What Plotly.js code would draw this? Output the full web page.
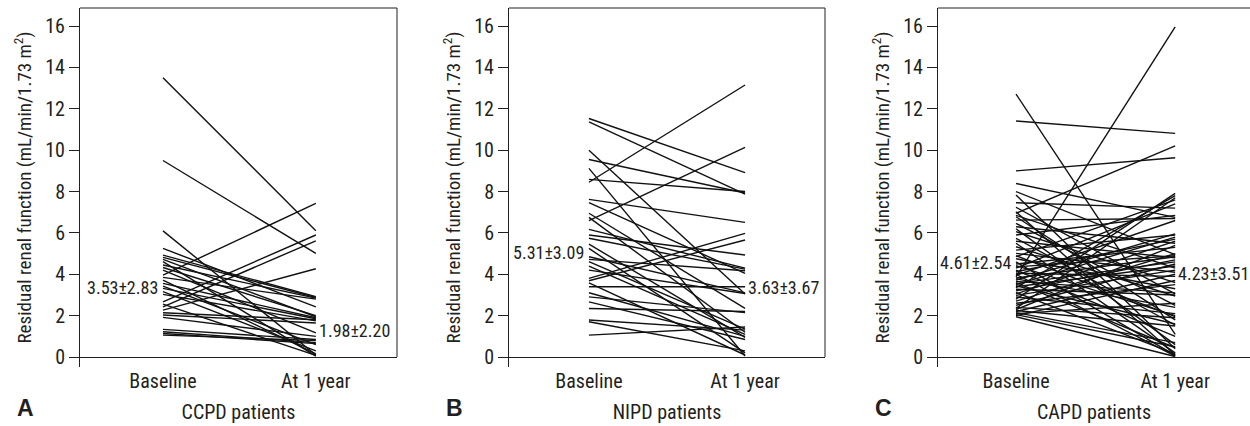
<!DOCTYPE html>
<html>
<head>
<meta charset="utf-8">
<script src="https://cdn.plot.ly/plotly-3.0.1.min.js"></script>
<style>
  html, body { margin: 0; padding: 0; background: #fff; }
  #chart { width: 1250px; height: 426px; }
</style>
</head>
<body>
<div id="chart"></div>
<script>
// ---------- data ----------
const xLabels = ['Baseline', 'At 1 year'];
const yTicks = [0, 2, 4, 6, 8, 10, 12, 14, 16];

const ccpdBaseline = [13.5, 9.5, 6.1, 5.25, 4.93, 4.82, 4.72, 4.61, 4.45, 4.33, 4.2, 3.96, 3.85, 3.72, 3.56,
  3.43, 3.32, 3.16, 3.03, 2.67, 2.56, 2.43, 2.27, 2.14, 2.03, 1.92, 1.34, 1.22, 1.14, 1.06];
const ccpdYear1 = [6.11, 5.01, 0.1, 2.43, 2.92, 2.88, 1.95, 0.05, 2.85, 2.0, 1.17, 7.43, 2.8, 0.15, 1.9,
  0.6, 1.85, 0.3, 1.75, 5.9, 0.08, 5.62, 4.27, 1.8, 1.65, 1.0, 0.85, 0.7, 0.65, 0.8];

const nipdBaseline = [8.45, 6.59, 11.53, 8.59, 9.55, 11.37, 7.62, 3.8, 3.69, 5.9, 6.17, 5.74, 4.72, 7.46, 3.4,
  4.85, 4.2, 10.0, 6.95, 2.35, 2.91, 1.06, 4.61, 1.79, 6.75, 4.4, 3.11, 5.46, 2.67, 1.71, 5.25, 3.59, 9.12];
const nipdYear1 = [13.15, 10.13, 8.91, 8.0, 7.93, 7.88, 6.51, 5.98, 5.66, 4.93, 4.3, 4.25, 4.17, 4.05, 3.4,
  3.1, 3.07, 3.05, 2.35, 2.2, 2.15, 1.45, 1.35, 1.3, 1.2, 1.1, 1.0, 0.95, 0.85, 0.3, 0.2, 0.1, 0.05];

const capdBaseline = [12.71, 11.41, 9.0, 8.39, 8.0, 7.83, 7.46, 7.24, 7.02, 6.95, 6.85, 6.78, 6.62, 6.46, 6.3,
  6.2, 6.06, 5.9, 5.74, 5.6, 5.5, 5.33, 5.17, 5.01, 4.9, 4.85, 4.75, 4.6, 4.5, 4.42, 4.36, 4.3, 4.2, 4.12,
  4.05, 4.0, 3.95, 3.87, 3.82, 3.78, 3.72, 3.66, 3.6, 3.55, 3.5, 3.45, 3.4, 3.35, 3.28, 3.2, 3.12, 3.05,
  2.98, 2.9, 2.8, 2.7, 2.6, 2.5, 2.4, 2.35, 2.3, 2.25, 2.2, 2.15, 2.1, 2.05, 2.0, 1.95];
const capdYear1 = [1.1, 10.81, 9.63, 6.75, 4.95, 0.4, 7.2, 3.05, 0.1, 10.21, 4.3, 1.8, 6.7, 2.5, 5.5,
  0.6, 3.6, 6.85, 1.55, 4.8, 0.2, 2.95, 5.9, 4.1, 1.95, 7.6, 3.3, 0.08, 5.3, 2.0, 4.9, 7.4, 1.0, 5.7,
  3.9, 0.05, 6.6, 15.96, 4.85, 2.4, 5.95, 3.1, 0.45, 4.6, 5.8, 1.6, 4.4, 7.8, 3.0, 4.7, 0.15, 5.6,
  4.2, 2.1, 7.91, 5.0, 3.5, 4.5, 1.9, 7.7, 5.4, 1.5, 4.0, 0.7, 2.6, 0.5, 3.7, 0.03];

const panelTitles = ['CCPD patients', 'NIPD patients', 'CAPD patients'];
const panelLetters = ['A', 'B', 'C'];
const baselineStats = ['3.53±2.83', '5.31±3.09', '4.61±2.54'];
const yearStats = ['1.98±2.20', '3.63±3.67', '4.23±3.51'];

// ---------- layout helpers ----------
const W = 1250, H = 426;
const FONT = '"Roboto Condensed", "Liberation Sans Narrow", Roboto, sans-serif';
const INK = '#231f20';
const panels = [
  { base: ccpdBaseline, year: ccpdYear1, dom: [80, 397], xr: [-0.543, 1.531], rightSpine: true,
    statL: 3.38, statR: 1.3 },
  { base: nipdBaseline, year: nipdYear1, dom: [509, 825], xr: [-0.512, 1.512], rightSpine: true,
    statL: 5.03, statR: 3.38 },
  { base: capdBaseline, year: capdYear1, dom: [938, 1250], xr: [-0.49, 1.47], rightSpine: false,
    statL: 4.59, statR: 4.06 }
];
const yRange = [-0.48, 16.87];
const yDom = [(H - 367) / H, (H - 8) / H];

const traces = [];
const layout = {
  width: W, height: H,
  margin: { l: 0, r: 0, t: 0, b: 0 },
  paper_bgcolor: '#fff', plot_bgcolor: '#fff',
  showlegend: false,
  font: { family: FONT, size: 19, color: INK },
  shapes: [], annotations: []
};

panels.forEach((p, i) => {
  const n = i === 0 ? '' : String(i + 1);
  const xs = [], ys = [];
  for (let k = 0; k < p.base.length; k++) {
    xs.push(xLabels[0], xLabels[1], null);
    ys.push(p.base[k], p.year[k], null);
  }
  traces.push({
    type: 'scatter', mode: 'lines', x: xs, y: ys,
    xaxis: 'x' + n, yaxis: 'y' + n,
    line: { color: '#111', width: 1.4 },
    connectgaps: false, hoverinfo: 'skip'
  });
  layout['xaxis' + n] = {
    domain: [p.dom[0] / W, p.dom[1] / W],
    anchor: 'y' + n,
    type: 'category', categoryorder: 'array', categoryarray: xLabels,
    range: p.xr, showgrid: false, zeroline: false, showline: false,
    ticks: '', tickfont: { size: 20 },
    title: { text: panelTitles[i], font: { size: 20 }, standoff: 12 },
    automargin: false, fixedrange: true
  };
  layout['yaxis' + n] = {
    domain: yDom, anchor: 'x' + n,
    range: yRange, tickvals: yTicks, ticktext: yTicks.map(String),
    ticks: 'outside', ticklen: 10, tickwidth: 1, tickcolor: INK,
    showline: true, linecolor: INK, linewidth: 1,
    zeroline: true, zerolinecolor: INK, zerolinewidth: 1,
    showgrid: false, tickfont: { size: 20 },
    title: { text: 'Residual renal function (mL/min/1.73 m<sup>2</sup>)', font: { size: 19 }, standoff: 8 },
    automargin: false, fixedrange: true
  };
  // top frame line
  layout.shapes.push({ type: 'line', xref: 'x' + n + ' domain', yref: 'y' + n + ' domain',
    x0: 0, x1: 1, y0: 1, y1: 1, line: { color: INK, width: 1 } });
  if (p.rightSpine) {
    layout.shapes.push({ type: 'line', xref: 'x' + n + ' domain', yref: 'y' + n,
      x0: 1, x1: 1, y0: 0, y1: yRange[1], line: { color: INK, width: 1 } });
  }
  layout.annotations.push({
    xref: 'x' + n, yref: 'y' + n, x: xLabels[0], y: p.statL, text: baselineStats[i],
    showarrow: false, xanchor: 'right', yanchor: 'middle', xshift: -3, font: { size: 18 }
  });
  layout.annotations.push({
    xref: 'x' + n, yref: 'y' + n, x: xLabels[1], y: p.statR, text: yearStats[i],
    showarrow: false, xanchor: 'left', yanchor: 'middle', xshift: 1, font: { size: 18 }
  });
  layout.annotations.push({
    xref: 'paper', yref: 'paper', x: (p.dom[0] - 55) / W, y: (H - 408) / H,
    text: '<b>' + panelLetters[i] + '</b>', showarrow: false, xanchor: 'center', yanchor: 'middle',
    font: { family: '"Liberation Sans", Arial, sans-serif', size: 23, color: INK }
  });
});

Plotly.newPlot('chart', traces, layout, { displayModeBar: false, staticPlot: true });
</script>
</body>
</html>
